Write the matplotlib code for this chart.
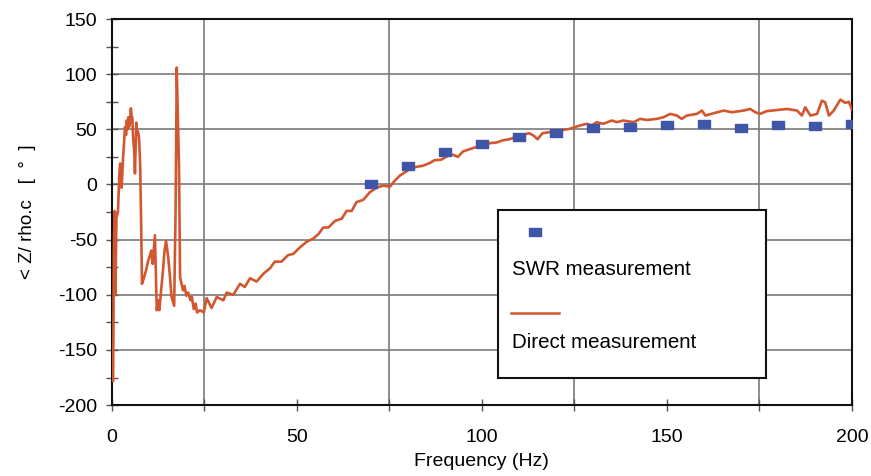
import matplotlib.pyplot as plt
from matplotlib.patches import Rectangle
from matplotlib.lines import Line2D
from matplotlib.ticker import FixedLocator

plt.rcParams['font.family'] = ['Liberation Sans', 'DejaVu Sans']
plt.rcParams['axes.unicode_minus'] = False

# SWR measurement (squares)
swr_freq = [70, 80, 90, 100, 110, 120, 130, 140, 150, 160, 170, 180, 190, 200]
swr_phase = [0, 17, 29, 37, 43.5, 47, 51.5, 52.5, 54, 55, 51, 54, 53, 55]

direct_freq = [
    0.3, 0.5, 0.7, 0.9, 1.2, 1.6, 2.0, 2.2, 2.4, 2.6, 3.0, 3.3, 3.5, 3.8, 4.0, 4.2,
    4.4, 4.6, 4.8, 5.1, 5.3, 5.5, 5.7, 6.0, 6.2, 6.4, 6.6, 6.8, 7.0, 7.3, 7.6,
    7.9, 8.1, 8.6, 9.2, 9.7, 10.1, 10.6, 11.0, 11.6, 12.1, 12.5, 12.8, 13.3,
    13.7, 14.2, 14.6, 15.2, 15.7, 16.1, 16.8, 17.2, 17.5, 17.8, 18.1, 18.4, 18.8,
    19.2, 19.6, 20.1, 20.6, 21.2, 21.6, 22.1, 22.6, 23.0, 23.8, 24.8, 25.6, 26.9,
    28.3, 30.1, 31.0, 32.8, 34.6, 35.9, 37.3, 39.1, 40.9, 42.7, 44.0, 45.8, 47.6,
    49.0, 50.8, 52.6, 54.4, 55.8, 57.1, 58.5, 60.3, 62.1, 63.4, 64.8, 66.1, 67.9,
    69.7, 71.5, 73.3, 75.1, 76.5, 77.8, 79.2, 80.5, 82.3, 84.1, 85.9, 87.2, 89.0,
    90.8, 92.2, 93.5, 94.9, 96.7, 98.5, 100.3, 102.1, 103.9, 105.6, 107.4, 109.2,
    111.0, 112.8, 114.1, 115.0, 116.4, 118.4, 121.0, 123.8, 126.5, 128.3, 129.7,
    131.0, 132.8, 135.1, 136.5, 138.2, 141.0, 142.8, 144.6, 147.3, 149.1, 150.9,
    152.7, 154.0, 155.4, 158.1, 159.5, 160.4, 162.6, 165.3, 167.6, 170.7, 172.5,
    173.9, 175.2, 177.0, 179.8, 182.5, 185.2, 186.5, 187.4, 188.8, 190.6, 191.9,
    192.8, 193.8, 195.1, 196.9, 198.2, 199.2, 200.0,
]
direct_phase = [
    -178, -60, -24, -100, -30, -25, 10, 19, 12, -3, 25, 40, 52, 45, 58, 50,
    61, 52, 55, 69, 62, 60, 43, 30, 10, 35, 56, 45, 48, 43, 19,
    -40, -90, -85, -78, -70, -66, -60, -72, -46, -114, -105, -114, -95,
    -81, -60, -51, -66, -85, -102, -110, -20, 106, 60, 19, -84, -90,
    -96, -92, -101, -98, -105, -102, -113, -108, -116, -114, -116, -103, -112,
    -102, -105, -98, -100, -90, -93, -85, -88, -81, -76, -70, -70, -64,
    -63, -57, -52, -49, -45, -39, -39, -33, -31, -24, -24, -16, -14,
    -7, -3, -1, -2, 3.6, 8, 11, 14, 16, 17, 19.5, 22, 22.5,
    26, 27, 25, 30, 32, 34, 35, 37.5, 38, 40, 41, 43,
    45, 46.5, 44, 41, 46.5, 47.5, 49, 50.5, 53.5, 55, 53.5,
    56.5, 55, 58, 56.5, 58, 56.5, 59.5, 58.5, 59.5, 61, 64,
    62.5, 59.5, 62.5, 64, 67, 62.5, 64.5, 67, 65.5, 67, 68.5,
    65.5, 64, 66.5, 67.5, 68.5, 67, 62.5, 70, 62.5, 64, 76,
    74.5, 62.5, 67, 77, 74, 75, 68,
]

x_major = [0, 50, 100, 150, 200]
x_grid = [25, 75, 125, 175]
y_major = [-200, -150, -100, -50, 0, 50, 100, 150]
y_minor = [-175, -125, -75, -25, 25, 75, 125]

fig = plt.figure(figsize=(8.71, 4.76), dpi=100)
ax = fig.add_axes([0.1286, 0.149, 0.8494, 0.811])

ax.plot(direct_freq, direct_phase, color='#d2572f', lw=1.9, zorder=3)
rect = [(-1, -0.6), (1, -0.6), (1, 0.6), (-1, 0.6), (-1, -0.6)]
ax.plot(swr_freq, swr_phase, ls='none', marker=rect, ms=9, color='#3e55a8',
        zorder=4)

ax.set_xlim(0, 200)
ax.set_ylim(-200, 150)
ax.xaxis.set_major_locator(FixedLocator(x_major))
ax.xaxis.set_minor_locator(FixedLocator(x_grid))
ax.yaxis.set_major_locator(FixedLocator(y_major))
ax.yaxis.set_minor_locator(FixedLocator(y_minor))
ax.tick_params(which='both', direction='inout', length=9, width=1,
               color='#555555', labelsize=14, pad=6)
ax.tick_params(axis='x', pad=13)

ax.grid(True, axis='y', which='major', color='#7a7a7a', lw=1.2)
ax.grid(True, axis='x', which='minor', color='#7a7a7a', lw=1.2)
ax.set_axisbelow(True)
for s in ax.spines.values():
    s.set_linewidth(1.5)
    s.set_color('#111111')

ax.set_xlabel('Frequency (Hz)', fontsize=14, labelpad=5)
ax.set_ylabel('< Z/ rho.c   [  \u00b0  ]', fontsize=13.5, labelpad=16)

# hand-built legend: sample above each label
ax.add_patch(Rectangle((0.5216, 0.07), 0.3624, 0.435, transform=ax.transAxes,
                       facecolor='white', edgecolor='#111111', lw=1.5,
                       zorder=5))
ax.add_line(Line2D([0.572], [0.448], transform=ax.transAxes, ls='none',
                   marker=rect, ms=9, color='#3e55a8', zorder=6))
ax.text(0.541, 0.35, 'SWR measurement', transform=ax.transAxes,
        fontsize=14.8, va='center', zorder=6)
ax.add_line(Line2D([0.539, 0.604], [0.238, 0.238], transform=ax.transAxes,
                   color='#d2572f', lw=1.8, zorder=6))
ax.text(0.541, 0.161, 'Direct measurement', transform=ax.transAxes,
        fontsize=14.8, va='center', zorder=6)

fig.savefig('out.png', dpi=100)
